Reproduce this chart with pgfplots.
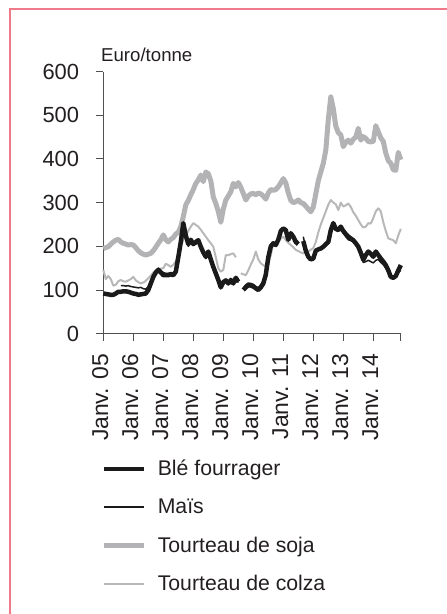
\documentclass[border=0pt]{standalone}
\usepackage{fontspec}
\setmainfont{Liberation Sans}
\usepackage{pgfplots}
\usepackage{pgfplotstable}
\pgfplotsset{compat=1.18}
\definecolor{txt}{HTML}{231F20}
\definecolor{axc}{HTML}{505050}
\definecolor{soja}{HTML}{B3B3B5}
\definecolor{colza}{HTML}{B8B8BA}
\definecolor{blk}{HTML}{1A1A1A}
\definecolor{frame}{HTML}{F07A8A}

\pgfplotstableread{
i ble mais soja colza
0 92 nan 195 146
1 91 nan 197 125
2 90 nan 199 132
3 89 nan 205 125
4 89 nan 210 110
5 92 nan 214 112
6 96 nan 216 120
7 96 110 210 123
8 97 110 207 120
9 97 109 205 119
10 96 110 203 122
11 94 108 204 125
12 92 107 203 130
13 91 106 197 122
14 89 105 190 118
15 90 106 185 115
16 91 103 182 117
17 92 102 180 121
18 100 108 182 127
19 115 118 184 133
20 130 133 190 140
21 140 143 198 146
22 146 150 207 148
23 140 145 215 149
24 134 140 226 150
25 134 138 215 160
26 134 138 210 157
27 136 140 216 153
28 134 139 220 158
29 142 146 228 165
30 175 170 232 185
31 210 205 245 200
32 253 245 268 215
33 225 220 295 225
34 205 200 305 235
35 215 210 318 245
36 205 203 330 253
37 210 205 344 249
38 214 210 352 245
39 199 195 363 238
40 186 182 348 230
41 176 172 370 222
42 188 183 366 214
43 170 165 350 207
44 153 150 313 199
45 138 135 298 175
46 123 120 280 150
47 106 104 255 142
48 118 114 285 146
49 122 120 306 180
50 115 113 315 180
51 123 120 325 182
52 115 113 344 184
53 128 125 336 175
54 119 117 346 nan
55 nan nan 335 138
56 100 105 321 136
57 106 112 306 134
58 111 116 315 145
59 110 115 320 158
60 108 113 321 170
61 104 108 318 188
62 100 105 322 170
63 106 112 320 161
64 115 122 315 157
65 135 142 308 153
66 175 180 322 160
67 200 200 330 180
68 207 205 328 207
69 203 200 330 210
70 215 212 336 214
71 235 232 345 218
72 241 243 355 222
73 237 232 345 214
74 215 220 322 208
75 230 225 305 203
76 222 225 300 198
77 210 215 302 192
78 205 210 306 189
79 nan nan 300 186
80 212 222 298 184
81 190 195 292 185
82 176 178 285 188
83 170 172 279 192
84 172 170 290 196
85 190 188 320 210
86 193 193 350 232
87 195 195 370 250
88 199 197 390 265
89 205 200 420 280
90 210 208 490 295
91 237 232 542 306
92 253 250 515 300
93 240 243 475 296
94 237 235 460 283
95 245 242 455 300
96 235 230 428 291
97 228 222 438 294
98 222 215 443 298
99 218 213 436 290
100 214 210 445 278
101 207 203 450 270
102 199 195 470 260
103 185 180 443 250
104 169 163 451 243
105 180 165 447 245
106 188 168 440 253
107 183 165 439 252
108 176 162 440 265
109 188 168 476 280
110 180 170 462 287
111 172 163 448 280
112 165 158 440 255
113 157 150 413 235
114 145 140 396 218
115 130 128 390 216
116 128 125 375 214
117 132 130 374 207
118 145 140 415 225
119 157 145 398 240
}\data

\begin{document}
\begin{tikzpicture}
\path[use as bounding box] (0bp,0bp) rectangle (447bp,-614bp);
\draw[frame, line width=1.3bp] (10bp,-614bp) -- (10bp,-9bp) -- (447bp,-9bp);
\begin{axis}[
  at={(103.3bp,-333.7bp)}, anchor=south west,
  scale only axis, width=297.5bp, height=262.2bp,
  xmin=0, xmax=119, ymin=0, ymax=600,
  axis x line*=bottom, axis y line*=left,
  axis line style={axc, line width=0.9bp, -},
  tick align=outside, major tick length=7bp,
  tick style={axc, line width=0.9bp},
  ytick={0,100,...,600},
  xtick={0,12,...,108,119},
  xticklabels={Janv. 05,Janv. 06,Janv. 07,Janv. 08,Janv. 09,Janv. 10,Janv. 11,Janv. 12,Janv. 13,Janv. 14,{}},
  /pgf/number format/assume math mode=true,
  yticklabel style={font=\fontsize{22}{26}\selectfont, text=txt, inner sep=0pt, anchor=east, xshift=-17bp},
  xticklabel style={font=\fontsize{23}{27}\selectfont, text=txt, inner sep=0pt, xshift=-3bp, yshift=-13bp, rotate=90, anchor=east},
  unbounded coords=jump,
  clip=false,
  legend style={at={(axis description cs:-0.005,-0.4836)}, anchor=north west, draw=none, fill=none,
    inner sep=0pt, outer sep=0pt, row sep=19.3bp, column sep=11bp,
    font=\fontsize{21.3}{25}\selectfont, text=txt,
    nodes={inner sep=0pt, text height=15bp, text depth=4bp}},
  legend cell align=left,
  legend image code/.code={\draw[#1] (0bp,1bp) -- (40bp,1bp);},
]
\addplot[soja, line width=5bp, line join=round, forget plot] table[x=i,y=soja]{\data};
\addplot[colza, line width=2bp, line join=round, forget plot] table[x=i,y=colza]{\data};
\addplot[blk, line width=4.5bp, line join=round, forget plot] table[x=i,y=ble]{\data};
\addplot[blk, line width=1.5bp, line join=round, forget plot] table[x=i,y=mais]{\data};
\addlegendimage{blk, line width=4.5bp}
\addlegendentry{Blé fourrager}
\addlegendimage{blk, line width=2bp}
\addlegendentry{Maïs}
\addlegendimage{soja, line width=5bp}
\addlegendentry{Tourteau de soja}
\addlegendimage{colza, line width=2.5bp}
\addlegendentry{Tourteau de colza}
\node[anchor=base west, font=\fontsize{18.7}{22}\selectfont, text=txt, inner sep=0pt, xshift=-2.3bp, yshift=10.5bp] at (rel axis cs:0,1) {Euro/tonne};
\end{axis}
\end{tikzpicture}
\end{document}
